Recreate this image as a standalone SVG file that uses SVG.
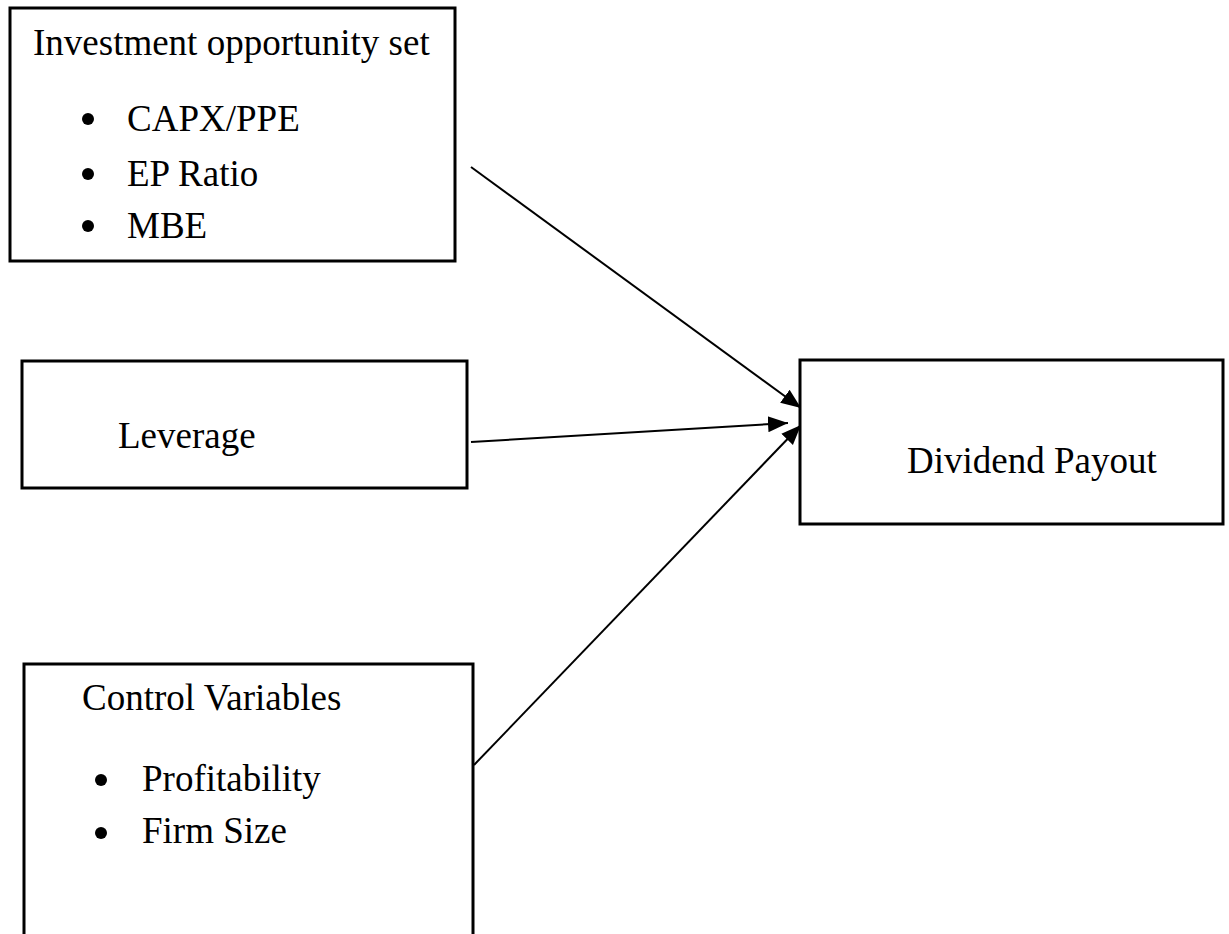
<svg xmlns="http://www.w3.org/2000/svg" width="1229" height="934" viewBox="0 0 1229 934">
<defs>
<style>
.box{fill:#fff;stroke:#000;stroke-width:3}
.t{font-family:"Liberation Serif","Times New Roman",serif;font-size:37px;fill:#000}
.c{stroke:#000;stroke-width:2;fill:none}
</style>
<marker id="ahb" viewBox="0 0 10 10" refX="10" refY="5" markerWidth="20" markerHeight="20" markerUnits="userSpaceOnUse" orient="auto">
<path d="M0,1 L10,5 L0,9 z" fill="#000"/>
</marker>
</defs>
<rect width="1229" height="934" fill="#fff"/>
<g id="connectors">
<line class="c" x1="471" y1="167" x2="801" y2="408" marker-end="url(#ahb)"/>
<line class="c" x1="471" y1="442" x2="788" y2="423" marker-end="url(#ahb)"/>
<line class="c" x1="474" y1="765" x2="801" y2="425" marker-end="url(#ahb)"/>
</g>
<g id="node-ios">
<rect class="box" x="10" y="8" width="445" height="253"/>
<text class="t" x="33" y="55">Investment opportunity set</text>
<circle cx="88" cy="119" r="6"/>
<text class="t" x="127" y="131">CAPX/PPE</text>
<circle cx="88" cy="174" r="6"/>
<text class="t" x="127" y="186">EP Ratio</text>
<circle cx="88" cy="226" r="6"/>
<text class="t" x="127" y="238">MBE</text>
</g>
<g id="node-leverage">
<rect class="box" x="22" y="361" width="445" height="127"/>
<text class="t" x="118" y="448">Leverage</text>
</g>
<g id="node-control">
<rect class="box" x="24" y="664" width="449" height="290"/>
<text class="t" x="82" y="710">Control Variables</text>
<circle cx="101" cy="780" r="6"/>
<text class="t" x="142" y="791">Profitability</text>
<circle cx="101" cy="833" r="6"/>
<text class="t" x="142" y="843">Firm Size</text>
</g>
<g id="node-dividend">
<rect class="box" x="800" y="360" width="423" height="164"/>
<text class="t" x="907" y="473">Dividend Payout</text>
</g>
</svg>
